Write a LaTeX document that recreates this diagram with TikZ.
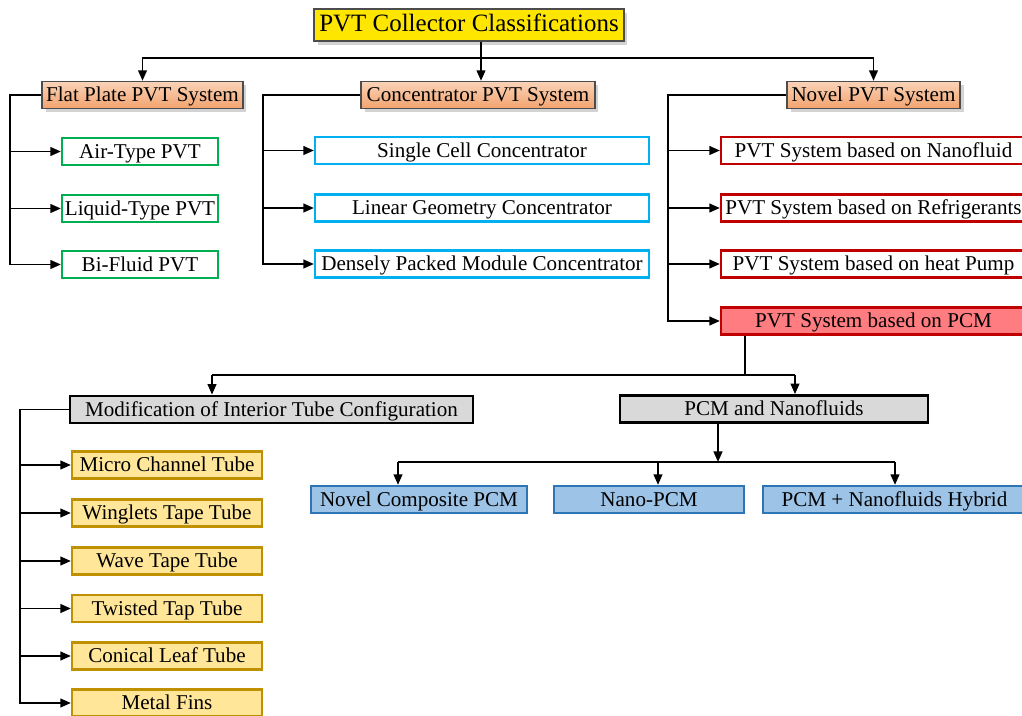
\documentclass[tikz,border=0pt]{standalone}
\usepackage{fontspec}
\setmainfont{Liberation Serif}
\usepackage{tikz}
\usetikzlibrary{arrows.meta,calc,shadows,positioning}

\definecolor{titleyellow}{HTML}{FFE600}
\definecolor{peachtop}{HTML}{FAD3B8}
\definecolor{peachbot}{HTML}{F2A36E}
\definecolor{leafgreen}{HTML}{00B050}
\definecolor{skyblue}{HTML}{00B0F0}
\definecolor{boxred}{HTML}{C00000}
\definecolor{pcmred}{HTML}{FF7C80}
\definecolor{lightgray}{HTML}{D9D9D9}
\definecolor{paleblue}{HTML}{9DC3E6}
\definecolor{deepblue}{HTML}{2E75B6}
\definecolor{paleyellow}{HTML}{FFE699}
\definecolor{mustard}{HTML}{BF9000}

\tikzset{
  box/.style={rectangle, inner sep=0pt, minimum height=0.54cm,
    text height=0.88em, text depth=0.1em,
    font=\fontsize{12}{14}\selectfont},
  titlebox/.style={box, draw=black!70, line width=1pt, fill=titleyellow,
    minimum height=0.64cm, font=\fontsize{14.2}{16}\selectfont,
    drop shadow={shadow xshift=2pt, shadow yshift=-2pt, opacity=0.35}},
  headbox/.style={box, draw=black!70, line width=0.8pt,
    top color=peachtop, bottom color=peachbot,
    drop shadow={shadow xshift=2pt, shadow yshift=-2pt, opacity=0.35}},
  greenbox/.style={box, draw=leafgreen, line width=1.3pt, fill=white},
  cyanbox/.style={box, draw=skyblue, line width=1.3pt, fill=white},
  redbox/.style={box, draw=boxred, line width=1.3pt, fill=white},
  graybox/.style={box, draw=black, line width=1.6pt, fill=lightgray},
  bluebox/.style={box, draw=deepblue, line width=1.3pt, fill=paleblue},
  tubebox/.style={box, draw=mustard, line width=1.3pt, fill=paleyellow},
  link/.style={line width=1pt},
  >={Triangle[length=6pt,width=5pt]}
}

\begin{document}
\begin{tikzpicture}[x=0.02cm, y=-0.02cm]
\useasboundingbox (0,0) rectangle (1022,716);

% top level
\node[titlebox, minimum width=6.2cm] (title) at (469,25) {PVT Collector Classifications};
\node[headbox, minimum width=4.02cm] (flat) at (142.5,95) {Flat Plate PVT System};
\node[headbox, minimum width=4.68cm] (conc) at (478,95) {Concentrator PVT System};
\node[headbox, minimum width=3.46cm] (novel) at (873.5,95) {Novel PVT System};

% flat plate types
\node[greenbox, minimum width=3.12cm] (air) at (140,151.5) {Air-Type PVT};
\node[greenbox, minimum width=3.12cm] (liquid) at (140,208.5) {Liquid-Type PVT};
\node[greenbox, minimum width=3.12cm] (bifluid) at (140,264.5) {Bi-Fluid PVT};

% concentrator types
\node[cyanbox, minimum width=6.68cm] (single) at (482,150.5) {Single Cell Concentrator};
\node[cyanbox, minimum width=6.68cm] (linear) at (482,208) {Linear Geometry Concentrator};
\node[cyanbox, minimum width=6.68cm] (dense) at (482,264) {Densely Packed Module Concentrator};

% novel types
\node[redbox, minimum width=6.1cm] (nanofl) at (873.5,150.5) {PVT System based on Nanofluid};
\node[redbox, minimum width=6.1cm] (refrig) at (873.5,208) {PVT System based on Refrigerants};
\node[redbox, minimum width=6.1cm] (heatp) at (873.5,264) {PVT System based on heat Pump};
\node[redbox, fill=pcmred, minimum width=6.1cm] (pcm) at (873.5,321) {PVT System based on PCM};

% PCM level
\node[graybox, minimum width=8.06cm] (modif) at (271.5,409.5) {Modification of Interior Tube Configuration};
\node[graybox, minimum width=6.16cm] (pcmn) at (774,409) {PCM and Nanofluids};

\node[bluebox, minimum width=4.32cm] (ncomp) at (419,499.5) {Novel Composite PCM};
\node[bluebox, minimum width=3.8cm] (nanopcm) at (649,499.5) {Nano-PCM};
\node[bluebox, minimum width=5.26cm] (hybrid) at (894.5,499.5) {PCM + Nanofluids Hybrid};

\node[tubebox, minimum width=3.8cm] (micro) at (167,465) {Micro Channel Tube};
\node[tubebox, minimum width=3.8cm] (winglet) at (167,513) {Winglets Tape Tube};
\node[tubebox, minimum width=3.8cm] (wave) at (167,561) {Wave Tape Tube};
\node[tubebox, minimum width=3.8cm] (twist) at (167,608.5) {Twisted Tap Tube};
\node[tubebox, minimum width=3.8cm] (conical) at (167,656) {Conical Leaf Tube};
\node[tubebox, minimum width=3.8cm] (fins) at (167,703) {Metal Fins};

% connectors from the title
\coordinate (top) at (481,58);
\draw[link] (title.south -| top) -- (top);
\draw[link,->] (top) -| (flat.north);
\draw[link,->] (top) -| (novel.north);
\draw[link,->] (top) -- (top |- conc.north);

% branch of flat plate
\coordinate (fpl) at (10,95);
\draw[link,->] (flat.west) -- (fpl) |- (bifluid.west);
\foreach \n in {air,liquid}
  \draw[link,->] (fpl |- \n.west) -- (\n.west);

% branch of concentrator
\coordinate (cpl) at (263,95);
\draw[link,->] (conc.west) -- (cpl) |- (dense.west);
\foreach \n in {single,linear}
  \draw[link,->] (cpl |- \n.west) -- (\n.west);

% branch of novel
\coordinate (npl) at (668,95);
\draw[link,->] (novel.west) -- (npl) |- (pcm.west);
\foreach \n in {nanofl,refrig,heatp}
  \draw[link,->] (npl |- \n.west) -- (\n.west);

% PCM split
\coordinate (split) at (745,375);
\coordinate (ml) at (212,375);
\coordinate (mr) at (795,375);
\draw[link] (pcm.south -| split) -- (split);
\draw[link] (ml) -- (mr);
\draw[link,->] (ml) -- (ml |- modif.north);
\draw[link,->] (mr) -- (mr |- pcmn.north);

% PCM and nanofluids split
\coordinate (bsplit) at (718,462);
\coordinate (b1) at (398,462);
\coordinate (b2) at (658,462);
\coordinate (b3) at (895,462);
\draw[link,->] (pcmn.south -| bsplit) -- (bsplit);
\draw[link] (b1) -- (b3);
\draw[link,->] (b1) -- (b1 |- ncomp.north);
\draw[link,->] (b2) -- (b2 |- nanopcm.north);
\draw[link,->] (b3) -- (b3 |- hybrid.north);

% branch of tube configuration
\coordinate (mpl) at (20,409.5);
\draw[link,->] (modif.west) -- (mpl) |- (fins.west);
\foreach \n in {micro,winglet,wave,twist,conical}
  \draw[link,->] (mpl |- \n.west) -- (\n.west);
\end{tikzpicture}
\end{document}
